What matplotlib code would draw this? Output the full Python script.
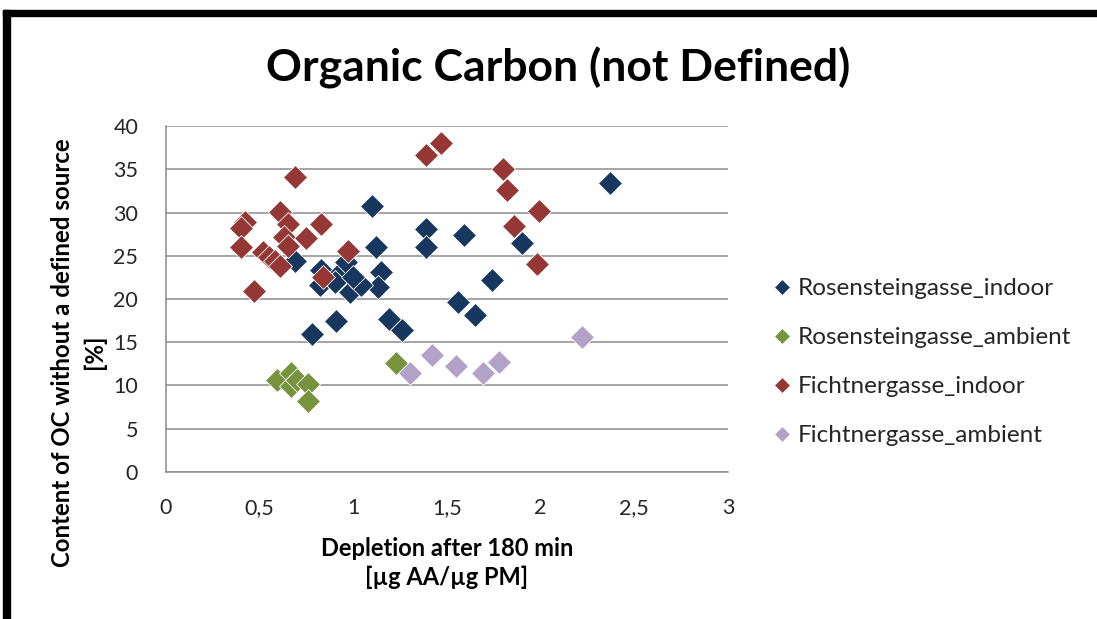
import matplotlib
matplotlib.use("Agg")
import matplotlib.pyplot as plt
from matplotlib.patches import Rectangle
from matplotlib.ticker import FuncFormatter, MultipleLocator

plt.rcParams['font.family'] = ['Lato', 'DejaVu Sans']

# Rosensteingasse, indoor samples
ros_in_x = [2.37, 1.59, 1.90, 1.74, 1.56, 1.65, 1.10, 1.39, 1.39, 1.12, 0.69,
            1.15, 1.13, 0.83, 0.82, 0.93, 0.96, 0.98, 1.04, 0.90, 1.00, 0.91,
            0.78, 1.19, 1.26]
ros_in_y = [33.4, 27.4, 26.5, 22.2, 19.6, 18.1, 30.7, 28.1, 26.0, 26.0, 24.4,
            23.1, 21.4, 23.3, 21.6, 23.0, 24.3, 20.8, 21.6, 22.0, 22.5, 17.4,
            15.9, 17.7, 16.4]

# Rosensteingasse, ambient samples
ros_amb_x = [0.59, 0.67, 0.67, 0.70, 0.76, 0.76, 1.23]
ros_amb_y = [10.6, 11.4, 9.9, 10.6, 10.2, 8.2, 12.6]

# Fichtnergasse, indoor samples
fi_in_x = [0.69, 1.39, 1.47, 0.42, 0.40, 0.40, 0.47, 0.61, 0.65, 0.63, 0.65,
           0.83, 0.75, 0.52, 0.55, 0.58, 0.61, 0.97, 0.84, 1.80, 1.82, 1.99,
           1.86, 1.98]
fi_in_y = [34.1, 36.6, 38.0, 28.9, 28.2, 26.0, 20.9, 30.1, 28.7, 27.2, 26.1,
           28.7, 27.1, 25.4, 24.9, 24.4, 23.8, 25.5, 22.6, 35.0, 32.6, 30.2,
           28.4, 24.0]

# Fichtnergasse, ambient samples
fi_amb_x = [1.30, 1.42, 1.55, 1.69, 1.78, 2.22]
fi_amb_y = [11.4, 13.5, 12.3, 11.5, 12.7, 15.6]

series = [
    (ros_in_x, ros_in_y, '#17375E', 'Rosensteingasse_indoor'),
    (ros_amb_x, ros_amb_y, '#77933C', 'Rosensteingasse_ambient'),
    (fi_in_x, fi_in_y, '#953735', 'Fichtnergasse_indoor'),
    (fi_amb_x, fi_amb_y, '#B3A2C7', 'Fichtnergasse_ambient'),
]

fig = plt.figure(figsize=(10.97, 6.19), dpi=100)
ax = fig.add_axes([0.1513, 0.2375, 0.6636 - 0.1513, 0.7964 - 0.2375])

for xs, ys, col, lab in series:
    ax.plot(xs, ys, linestyle='none', marker='D', markersize=12.3,
            markerfacecolor=col, markeredgecolor='white', markeredgewidth=0.6,
            label=lab, zorder=3)

ax.set_xlim(0, 3)
ax.set_ylim(0, 40)
ax.xaxis.set_major_locator(MultipleLocator(0.5))
ax.yaxis.set_major_locator(MultipleLocator(5))
ax.xaxis.set_major_formatter(FuncFormatter(lambda v, p: ('%g' % v).replace('.', ',')))
ax.tick_params(axis='both', length=0, labelsize=15.5, colors='#262626')
ax.tick_params(axis='y', pad=20)
ax.tick_params(axis='x', pad=19)

ax.grid(axis='y', color='#8c8c8c', linewidth=1.1)
ax.set_axisbelow(True)
for side in ['top', 'right']:
    ax.spines[side].set_visible(False)
for side in ['left', 'bottom']:
    ax.spines[side].set_color('#8c8c8c')
    ax.spines[side].set_linewidth(1.1)

fig.text(0.5087, 0.890, 'Organic Carbon (not Defined)', ha='center', va='center',
         fontsize=32, fontweight='bold', color='black')

fig.text(0.0716, 0.431, 'Content of OC without a defined source\n[%]',
         rotation=90, ha='center', va='center', multialignment='center',
         fontsize=17.3, fontweight='bold', linespacing=1.4, color='black')

fig.text(0.4075, 0.0905, 'Depletion after 180 min\n[µg AA/µg PM]',
         ha='center', va='center', multialignment='center',
         fontsize=17, fontweight='bold', linespacing=1.25, color='black')

handles, labels = ax.get_legend_handles_labels()
leg = fig.legend(handles, labels, loc='center left', bbox_to_anchor=(0.706, 0.415),
                 frameon=False, fontsize=17.5, labelspacing=1.15, handlelength=0.6,
                 handletextpad=0.35, borderpad=0, borderaxespad=0, markerscale=0.7)
for t in leg.get_texts():
    t.set_color('#262626')

# dark frame along top and left edges
fig.patches.append(Rectangle((3 / 1097, 0), 7 / 1097, 1 - 10 / 619,
                             transform=fig.transFigure, color='black', zorder=10))
fig.patches.append(Rectangle((3 / 1097, 1 - 16 / 619), 1, 6 / 619,
                             transform=fig.transFigure, color='black', zorder=10))

fig.savefig('out.png', dpi=100)
